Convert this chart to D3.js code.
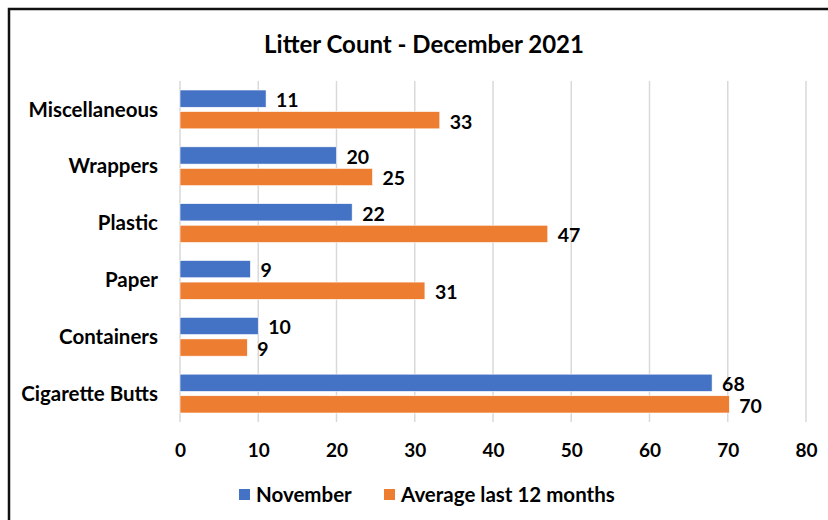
<!DOCTYPE html>
<html>
<head>
<meta charset="utf-8">
<script src="https://cdn.jsdelivr.net/npm/d3@7"></script>
<style>
  body { margin: 0; background: #fff; }
  text { font-family: Lato, "Open Sans", sans-serif; font-weight: bold; fill: #000; }
</style>
</head>
<body>
<div id="chart"></div>
<script>
const categories = ['Miscellaneous', 'Wrappers', 'Plastic', 'Paper', 'Containers', 'Cigarette Butts'];
const seriesNames = ['November', 'Average last 12 months'];
const november = [11, 20, 22, 9, 10, 68];
const average = [33.2, 24.6, 47, 31.3, 8.6, 70.2];
const xTicks = [0, 10, 20, 30, 40, 50, 60, 70, 80];
const colors = ['#4472C4', '#ED7D31'];

const width = 828;
const height = 520;
const plotLeft = 180, plotRight = 806, plotTop = 81, plotBottom = 422;

const svg = d3.select('#chart')
  .append('svg')
  .attr('width', width)
  .attr('height', height);

// frame (only top/left edges show in the picture)
svg.append('rect')
  .attr('x', 9).attr('y', 9)
  .attr('width', 1000).attr('height', 1000)
  .attr('fill', 'none')
  .attr('stroke', '#111')
  .attr('stroke-width', 2.5);

svg.append('text')
  .attr('x', 424).attr('y', 53)
  .attr('text-anchor', 'middle')
  .attr('font-size', 24)
  .text('Litter Count - December 2021');

const xScale = d3.scaleLinear().domain([0, 80]).range([plotLeft, plotRight]);
const yScale = d3.scaleBand().domain(categories).range([plotTop, plotBottom]);
const inner = d3.scaleBand().domain(seriesNames)
  .range([9, yScale.bandwidth() - 9])
  .paddingInner(0.2);

// gridlines
svg.append('g')
  .selectAll('line')
  .data(xTicks)
  .enter()
  .append('line')
  .attr('x1', d => xScale(d)).attr('x2', d => xScale(d))
  .attr('y1', plotTop).attr('y2', plotBottom)
  .attr('stroke', '#d9d9d9')
  .attr('stroke-width', 1.5);

// x axis labels
const xAxis = d3.axisBottom(xScale).tickValues(xTicks).tickSize(0).tickPadding(0);
const gx = svg.append('g')
  .attr('transform', `translate(0, ${plotBottom + 35})`)
  .call(xAxis);
gx.select('.domain').remove();
gx.selectAll('text').attr('font-size', 19).attr('font-family', null).attr('dy', 0).attr('fill', '#000');

// y axis labels
const yAxis = d3.axisLeft(yScale).tickSize(0).tickPadding(0);
const gy = svg.append('g')
  .attr('transform', `translate(${plotLeft - 22}, 0)`)
  .call(yAxis);
gy.select('.domain').remove();
gy.selectAll('text').attr('font-size', 20.5).attr('font-family', null).attr('dy', '0.35em').attr('fill', '#000');

const rows = categories.map((c, i) => ({ cat: c, vals: [november[i], average[i]] }));
const fmt = d3.format('.0f');

const groups = svg.selectAll('.cat')
  .data(rows)
  .enter()
  .append('g')
  .attr('class', 'cat')
  .attr('transform', d => `translate(0, ${yScale(d.cat)})`);

const cells = groups.selectAll('g')
  .data(d => d.vals.map((v, j) => ({ s: seriesNames[j], v, j })))
  .enter()
  .append('g');

cells.append('rect')
  .attr('x', xScale(0))
  .attr('y', d => inner(d.s))
  .attr('width', d => xScale(d.v) - xScale(0))
  .attr('height', inner.bandwidth())
  .attr('fill', d => colors[d.j])
  .attr('stroke', '#fff')
  .attr('stroke-width', 0.6);

cells.append('text')
  .attr('x', d => xScale(d.v) + 10)
  .attr('y', d => inner(d.s) + inner.bandwidth() / 2 + 1.5)
  .attr('dy', '0.35em')
  .attr('font-size', 19.5)
  .text(d => fmt(d.v));

// legend
const legendX = [239, 384];
const legend = svg.selectAll('.legend')
  .data(seriesNames)
  .enter()
  .append('g')
  .attr('class', 'legend')
  .attr('transform', (d, i) => `translate(${legendX[i]}, 489)`);

legend.append('rect')
  .attr('width', 11).attr('height', 11)
  .attr('fill', (d, i) => colors[i]);

legend.append('text')
  .attr('x', 17).attr('y', 6)
  .attr('dy', '0.35em')
  .attr('font-size', 20.5)
  .text(d => d);
</script>
</body>
</html>
